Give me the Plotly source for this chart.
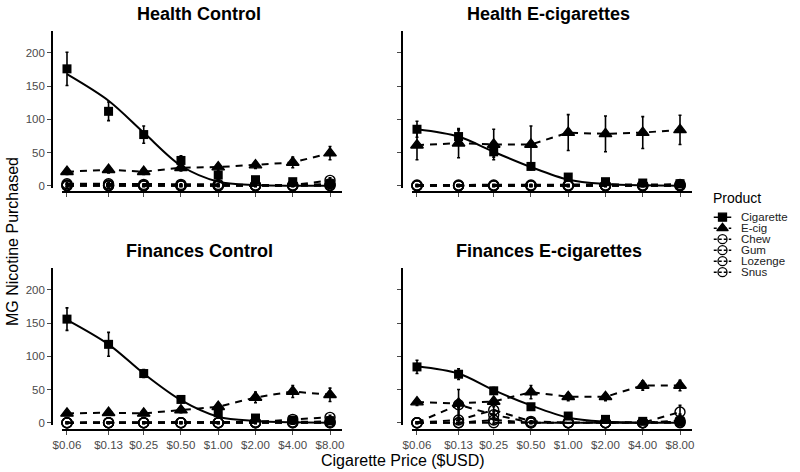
import plotly.graph_objects as go

# ---------------- data ----------------
PRICES = [0.06, 0.13, 0.25, 0.50, 1.00, 2.00, 4.00, 8.00]
PRICE_LABELS = ["$0.06", "$0.13", "$0.25", "$0.50", "$1.00", "$2.00", "$4.00", "$8.00"]
PRODUCTS = ["Cigarette", "E-cig", "Chew", "Gum", "Lozenge", "Snus"]
PANEL_TITLES = ["Health Control", "Health E-cigarettes", "Finances Control", "Finances E-cigarettes"]
Y_TICKS = [0, 50, 100, 150, 200]

# Health Control
HC_CIG = [176, 112, 77, 38, 16, 9, 6, 3]
HC_CIG_ERR = [25, 14, 13, 7, 4, 3, 2, 2]
HC_ECIG = [21, 24, 21, 27, 28, 31, 35, 49]
HC_ECIG_ERR = [4, 5, 4, 5, 5, 5, 8, 10]
HC_CHEW = [3, 3, 2, 2, 2, 1, 1, 8]
HC_GUM = [0, 0, 0, 0, 0, 0, 0, 3]
HC_LOZENGE = [1, 1, 0, 0, 0, 0, 0, 1]
HC_SNUS = [0, 0, 0, 0, 0, 0, 0, 0]
HC_OTHER_ERR = [2, 2, 1, 1, 1, 1, 1, 4]
HC_FIT = [168, 128, 80, 30, 6, 1, 0, 0]

# Health E-cigarettes
HE_CIG = [85, 74, 51, 29, 13, 6, 4, 3]
HE_CIG_ERR = [12, 10, 8, 5, 3, 2, 2, 1]
HE_ECIG = [61, 64, 62, 62, 80, 78, 80, 84]
HE_ECIG_ERR = [22, 22, 23, 28, 27, 27, 24, 22]
HE_CHEW = [1, 1, 1, 1, 1, 1, 1, 2]
HE_GUM = [0, 0, 0, 0, 0, 0, 0, 1]
HE_LOZENGE = [0, 0, 0, 0, 0, 0, 0, 0]
HE_SNUS = [0, 0, 0, 0, 0, 0, 0, 0]
HE_OTHER_ERR = [1, 1, 1, 1, 1, 1, 1, 1]
HE_FIT = [85, 74, 51, 28, 9, 2.5, 0.5, 0]

# Finances Control
FC_CIG = [156, 118, 74, 35, 15, 7, 4, 3]
FC_CIG_ERR = [17, 18, 6, 4, 3, 2, 1, 1]
FC_ECIG = [14, 15, 14, 19, 24, 38, 47, 42]
FC_ECIG_ERR = [3, 3, 3, 4, 5, 8, 9, 10]
FC_CHEW = [0, 0, 0, 0, 0, 1, 5, 8]
FC_GUM = [0, 0, 0, 0, 0, 0, 1, 2]
FC_LOZENGE = [0, 0, 0, 0, 0, 0, 0, 0]
FC_SNUS = [0, 0, 0, 0, 0, 0, 0, 0]
FC_OTHER_ERR = [1, 1, 1, 1, 1, 1, 2, 3]
FC_FIT = [155, 118, 74, 34, 9, 2.5, 0.5, 0]

# Finances E-cigarettes
FE_CIG = [84, 73, 48, 24, 10, 5, 2, 2]
FE_CIG_ERR = [10, 8, 5, 4, 2, 1, 1, 1]
FE_ECIG = [31, 29, 32, 46, 39, 39, 56, 56]
FE_ECIG_ERR = [5, 5, 5, 10, 6, 6, 7, 8]
FE_CHEW = [0, 27, 12, 0, 0, 0, 0, 16]
FE_GUM = [0, 4, 19, 2, 0, 0, 0, 3]
FE_LOZENGE = [0, 0, 4, 0, 0, 0, 0, 1]
FE_SNUS = [0, 0, 0, 0, 0, 0, 0, 0]
FE_OTHER_ERR = [1, 23, 5, 1, 0, 0, 0, 10]
FE_FIT = [85, 74, 49, 26, 7.5, 1.5, 0, 0]

PANELS = [
    dict(means=[HC_CIG, HC_ECIG, HC_CHEW, HC_GUM, HC_LOZENGE, HC_SNUS],
         errs=[HC_CIG_ERR, HC_ECIG_ERR, HC_OTHER_ERR, HC_OTHER_ERR, HC_OTHER_ERR, HC_OTHER_ERR],
         fit=HC_FIT),
    dict(means=[HE_CIG, HE_ECIG, HE_CHEW, HE_GUM, HE_LOZENGE, HE_SNUS],
         errs=[HE_CIG_ERR, HE_ECIG_ERR, HE_OTHER_ERR, HE_OTHER_ERR, HE_OTHER_ERR, HE_OTHER_ERR],
         fit=HE_FIT),
    dict(means=[FC_CIG, FC_ECIG, FC_CHEW, FC_GUM, FC_LOZENGE, FC_SNUS],
         errs=[FC_CIG_ERR, FC_ECIG_ERR, FC_OTHER_ERR, FC_OTHER_ERR, FC_OTHER_ERR, FC_OTHER_ERR],
         fit=FC_FIT),
    dict(means=[FE_CIG, FE_ECIG, FE_CHEW, FE_GUM, FE_LOZENGE, FE_SNUS],
         errs=[FE_CIG_ERR, FE_ECIG_ERR, FE_OTHER_ERR, FE_OTHER_ERR, FE_OTHER_ERR, FE_OTHER_ERR],
         fit=FE_FIT),
]

# ---------------- styling ----------------
W, H = 800, 472
FONT = "Liberation Sans, Arial, sans-serif"
TICK_COLOR = "#4a4a4a"
SYMBOLS = ["square", "triangle-up", "circle-open", "circle-open", "circle-open", "circle-open"]
SIZES = [9, 11, 10, 10, 10, 10]
DASH = "7px,6px"


def px(x):
    return x / W


def py(y):
    return 1 - y / H


# panel geometry in pixels: (x_left, x_right, yaxis_x, y_top, y_bottom, xaxis_y)
GEOM = [
    (62, 342, 52, 31, 188, 192),
    (412, 692, 402, 31, 188, 192),
    (62, 342, 52, 268, 425, 430),
    (412, 692, 402, 268, 425, 430),
]

fig = go.Figure()
layout = dict(
    template="none",
    width=W, height=H, margin=dict(l=0, r=0, t=0, b=0, pad=0),
    paper_bgcolor="white", plot_bgcolor="white",
    font=dict(family=FONT, color="black"), showlegend=False,
)

for i, (panel, g) in enumerate(zip(PANELS, GEOM)):
    n = i + 1
    xa, ya = f"x{n}", f"y{n}"
    xl, xr, yx, yt, yb, xy = g
    bottom = i >= 2
    left = i % 2 == 0
    layout[f"xaxis{n}"] = dict(
        domain=[px(xl), px(xr)], type="log", range=[-1.2622, 1.0],
        anchor="free", position=py(xy), automargin=False,
        tickmode="array", tickvals=PRICES, ticktext=PRICE_LABELS, showticklabels=bottom,
        ticks="outside", ticklen=4, tickwidth=1, tickcolor=TICK_COLOR,
        tickfont=dict(size=11.5, color=TICK_COLOR, family=FONT),
        showline=True, linecolor="black", linewidth=1.6,
        showgrid=False, zeroline=False,
    )
    layout[f"yaxis{n}"] = dict(
        domain=[py(yb), py(yt)], range=[-3.5, 233],
        anchor="free", position=px(yx), automargin=False,
        tickmode="array", tickvals=Y_TICKS, showticklabels=left,
        ticks="outside", ticklen=4, tickwidth=1, tickcolor=TICK_COLOR,
        tickfont=dict(size=11.5, color=TICK_COLOR, family=FONT),
        showline=True, linecolor="black", linewidth=1.6,
        showgrid=False, zeroline=False,
    )
    # non-cigarette products (dashed), drawn bottom first
    for k in [5, 4, 3, 2, 1]:
        fig.add_trace(go.Scatter(
            x=PRICES, y=panel["means"][k], xaxis=xa, yaxis=ya,
            mode="lines+markers", name=PRODUCTS[k], cliponaxis=False,
            line=dict(color="black", width=2, dash=DASH),
            marker=dict(symbol=SYMBOLS[k], size=SIZES[k], color="black",
                        line=dict(color="black", width=1.4)),
            error_y=dict(type="data", array=panel["errs"][k], color="black",
                         thickness=1.6, width=1.5),
        ))
    # cigarette points
    fig.add_trace(go.Scatter(
        x=PRICES, y=panel["means"][0], xaxis=xa, yaxis=ya,
        mode="markers", name=PRODUCTS[0], cliponaxis=False,
        marker=dict(symbol=SYMBOLS[0], size=SIZES[0], color="black"),
        error_y=dict(type="data", array=panel["errs"][0], color="black",
                     thickness=1.6, width=1.5),
    ))
    # fitted demand curve (solid)
    fig.add_trace(go.Scatter(
        x=PRICES, y=panel["fit"], xaxis=xa, yaxis=ya, mode="lines",
        line=dict(color="black", width=2, shape="spline", smoothing=0.9),
        cliponaxis=False, hoverinfo="skip",
    ))

# ---------------- legend (own small subplot) ----------------
layout["xaxis5"] = dict(domain=[px(705), px(740)], range=[-1, 1], visible=False,
                        anchor="y5", fixedrange=True, automargin=False)
layout["yaxis5"] = dict(domain=[py(277.7), py(211.7)], type="category",
                        categoryorder="array", categoryarray=PRODUCTS,
                        tickmode="array", tickvals=PRODUCTS, ticktext=PRODUCTS,
                        range=[5.5, -0.5], anchor="x5", side="right", automargin=False,
                        showline=False, showgrid=False, zeroline=False, ticks="",
                        tickfont=dict(size=11.5, color="#222", family=FONT))
for k, p in enumerate(PRODUCTS):
    fig.add_trace(go.Scatter(
        x=[-0.5, 0.5], y=[p, p], xaxis="x5", yaxis="y5", mode="lines",
        line=dict(color="black", width=1.6, dash="solid" if k == 0 else "3px,2px"),
        hoverinfo="skip",
    ))
    fig.add_trace(go.Scatter(
        x=[0], y=[p], xaxis="x5", yaxis="y5", mode="markers", cliponaxis=False,
        marker=dict(symbol=SYMBOLS[k], size=SIZES[k] - 1, color="black",
                    line=dict(color="black", width=1.3)),
        error_y=dict(type="data", array=[0.4], color="black", thickness=1.4, width=3),
    ))

# ---------------- annotations ----------------
ann = []
TITLE_POS = [(199, 14), (548, 14), (199, 251), (549, 251)]
for t, (tx, ty) in zip(PANEL_TITLES, TITLE_POS):
    ann.append(dict(text=f"<b>{t}</b>", x=px(tx), y=py(ty), xref="paper", yref="paper",
                    showarrow=False, xanchor="center", yanchor="middle",
                    font=dict(size=18, color="black", family=FONT)))
ann.append(dict(text="MG Nicotine Purchased", x=px(13), y=py(242), xref="paper", yref="paper",
                showarrow=False, textangle=-90, xanchor="center", yanchor="middle",
                font=dict(size=16, color="black", family=FONT)))
ann.append(dict(text="Cigarette Price ($USD)", x=px(403), y=py(460), xref="paper", yref="paper",
                showarrow=False, xanchor="center", yanchor="middle",
                font=dict(size=16, color="black", family=FONT)))
ann.append(dict(text="Product", x=px(711), y=py(198), xref="paper", yref="paper",
                showarrow=False, xanchor="left", yanchor="middle",
                font=dict(size=14, color="black", family=FONT)))
layout["annotations"] = ann

fig.update_layout(**layout)
# remove the default 8px page margin so the 800x472 figure fills the window exactly
fig.write_html("out.html",
               config={"displayModeBar": False},
               post_script="document.body.style.margin='0';document.body.style.overflow='hidden';")
